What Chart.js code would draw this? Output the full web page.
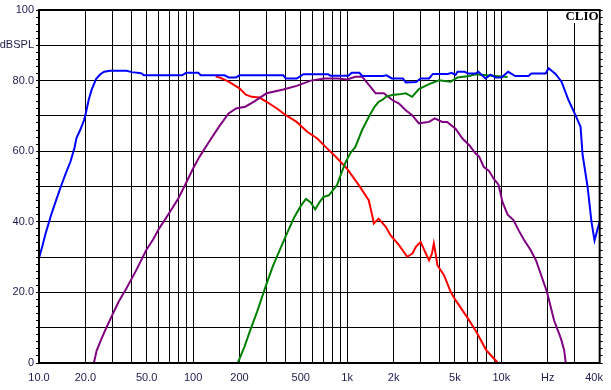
<!DOCTYPE html>
<html><head><meta charset="utf-8">
<script src="https://cdn.jsdelivr.net/npm/chart.js@4/dist/chart.umd.min.js"></script>
<style>html,body{margin:0;padding:0;background:#fff}canvas{display:block}</style>
</head><body>
<canvas id="c" width="611" height="390"></canvas>
<script>
// ---- data (frequency in Hz, level in dBSPL) ----
const blueHz = [10,10.5,11,12,13,14,15,16,17,17.5,18.5,19.5,20,21,22,23.5,25,26.5,29,37,40,46,48,60,85,90,108,112,160,170,190,200,385,400,470,520,750,780,1020,1070,1200,1250,1700,1800,1950,2300,2400,2800,3000,3400,3600,4500,4760,5050,5200,5800,6100,6800,7100,7900,8500,9200,10000,11100,12300,15000,15700,19400,20300,22500,24600,27300,30300,32700,33700,36300,38500,40300,42200,43500];
const blueDb = [29.7,33,36.5,42,46.5,50.5,54,57,61,63.7,66,68.5,70.2,74.5,77.5,80.5,81.8,82.5,82.8,82.8,82.4,82.1,81.5,81.5,81.5,82.2,82.2,81.5,81.5,80.9,80.9,81.5,81.5,80.6,80.6,81.8,81.8,81.4,81.4,82.2,82.2,81.3,81.3,81.5,80.6,80.6,79.5,79.6,80.6,80.6,81.9,81.9,82.2,81.6,82.5,82.5,82,82,82.5,80.6,81.7,80.9,80.9,82.5,81.3,81.3,82,82,83.5,81.9,79.7,74.5,70.2,66.9,59,50,40,34.7,38,40];

const redHz = [140,150,170,200,220,240,270,300,350,400,470,550,640,740,840,1000,1190,1380,1450,1490,1600,1780,1910,2170,2450,2650,2800,3000,3200,3400,3550,3650,3750,3850,4250,4700,5050,6000,6900,8000,9300,9500];
const redDb = [81.2,80.8,79.7,77.8,76.0,75.4,75.2,74.0,72.1,70.2,68.3,65.5,63.6,60.8,58.5,55.0,50.4,46.1,42,39.5,40.9,38.6,36.2,33.4,30.1,31.0,33,34.3,31.5,29.1,31,33.9,31,27.7,24.9,20.1,17.8,13.0,8.8,3.6,0.5,0];

const purpleHz = [22.7,23.7,25.5,27.5,30.2,33,36.9,42.8,49.7,55,60,70,80,90,100,110,127,147,170,190,218,247,300,385,470,580,710,870,1000,1130,1250,1400,1530,1730,1960,2170,2400,2640,2920,3400,3700,4140,4450,5050,5600,6200,6800,7200,7700,8300,9000,9600,10200,11000,12000,13000,14000,15500,16800,19800,22000,24400,25600,26200];
const purpleDb = [0,3.6,7,10.2,14,17.5,21.1,26.3,32,35,38,42.5,46.5,51,55.1,58.4,62.7,66.9,70.7,72.1,72.6,74,76.4,77.5,78.5,80,80.6,80.6,80.3,81.1,81.1,78.5,76.4,76.4,74.5,73.5,71.6,70.2,67.9,68.3,69.3,68.3,68.3,66.4,63.6,61.7,59.4,58.4,55.5,54.5,52,50.5,45.5,42,40.5,37.5,35,32,29.1,20.1,12.1,6.9,3.6,0];

const greenHz = [195,215,235,260,300,330,365,400,450,500,540,580,620,660,700,760,860,920,980,1050,1130,1250,1380,1500,1600,1690,1800,1960,2170,2400,2640,2920,3400,3940,4700,5200,6200,6800,8000,11000];
const greenDb = [0,4.5,9.3,14.5,22.5,27.5,32,36,41,44.5,46.5,45.5,43.5,45.5,47,47.5,50.4,54,57,59.5,61.2,66,69.7,72.5,74,74.5,75.5,75.9,76.1,76.4,75.4,77.6,79,80.1,79.7,80.9,81.3,81.8,81.5,81];

// ---- axes ----
const xGrid = [10,20,30,40,50,60,70,80,90,100,200,300,400,500,600,700,800,900,1000,2000,3000,4000,5000,6000,7000,8000,9000,10000,20000,30000,40000];
const xLabels = {10:'10.0',20:'20.0',50:'50.0',100:'100',200:'200',500:'500',1000:'1k',2000:'2k',5000:'5k',10000:'10k',20000:'Hz',40000:'40k'};
const yLabels = {100:'100',90:'dBSPL',80:'80.0',60:'60.0',40:'40.0',20:'20.0',0:'0'};
const yMinor = [0,2,4,6,8,10,12,14,16,18,20,22,24,26,28,30,32,34,36,38,40,42,44,46,48,50,52,54,56,58,60,62,64,66,68,70,72,74,76,78,80,82,84,86,88,90,92,94,96,98,100];

const pts = (hz, db) => hz.map((f, i) => ({x: f, y: db[i]}));
const ds = (hz, db, col) => ({data: pts(hz, db), borderColor: col, borderWidth: 2, pointRadius: 0, tension: 0, fill: false});

const frame = {
  id: 'frame',
  afterDraw(chart) {
    const {ctx, chartArea: a} = chart;
    ctx.save();
    ctx.strokeStyle = '#000';
    ctx.lineWidth = 2;
    ctx.strokeRect(a.left, a.top, a.right - a.left, a.bottom - a.top);
    ctx.font = 'bold 13px "Liberation Serif", "DejaVu Serif", serif';
    const w = ctx.measureText('CLIO').width;
    ctx.fillStyle = '#fff';
    ctx.fillRect(a.right - w - 3, a.top + 1, w + 2, 12);
    ctx.fillStyle = '#000';
    ctx.textAlign = 'right';
    ctx.textBaseline = 'alphabetic';
    ctx.fillText('CLIO', a.right - 1, a.top + 10);
    ctx.restore();
  }
};

const lblFont = {family: '"Liberation Sans", Arial, sans-serif', size: 11};
const lblColor = '#1c1c4c';

new Chart(document.getElementById('c'), {
  type: 'line',
  data: {datasets: [
    ds(blueHz, blueDb, '#0000ff'),
    ds(greenHz, greenDb, '#008000'),
    ds(purpleHz, purpleDb, '#800080'),
    ds(redHz, redDb, '#ff0000')
  ]},
  options: {
    responsive: false,
    animation: false,
    events: [],
    layout: {padding: {top: 10, left: 0, right: 0, bottom: 0}},
    plugins: {legend: {display: false}, tooltip: {enabled: false}},
    scales: {
      x: {
        type: 'logarithmic', min: 10, max: 43500,
        afterBuildTicks: s => { s.ticks = xGrid.map(v => ({value: v})); },
        afterFit: s => { s.height = 27; },
        border: {display: false},
        grid: {color: c => (c.tick && c.tick.value === 40000) ? 'rgba(0,0,0,0)' : '#000', lineWidth: 1, drawTicks: false},
        ticks: {autoSkip: false, maxRotation: 0, padding: 8, color: lblColor, font: lblFont,
          callback: v => xLabels[v] !== undefined ? xLabels[v] : ''}
      },
      y: {
        type: 'linear', min: 0, max: 100, position: 'left',
        afterBuildTicks: s => { s.ticks = yMinor.map(v => ({value: v})); },
        afterFit: s => { s.width = 39; },
        border: {display: false},
        grid: {color: c => (c.tick && c.tick.value % 10 === 0) ? '#000' : 'rgba(0,0,0,0)', tickColor: '#000', tickLength: 3, lineWidth: 1},
        ticks: {autoSkip: false, padding: 2, color: lblColor, font: lblFont,
          callback: v => yLabels[v] !== undefined ? yLabels[v] : ''}
      },
      y2: {
        type: 'linear', min: 0, max: 100, position: 'right',
        afterBuildTicks: s => { s.ticks = yMinor.map(v => ({value: v})); },
        afterFit: s => { s.width = 9; },
        border: {display: false},
        grid: {drawOnChartArea: false, tickColor: '#000', tickLength: 3, lineWidth: 1},
        ticks: {display: false}
      }
    }
  },
  plugins: [frame]
});
</script>
</body></html>
